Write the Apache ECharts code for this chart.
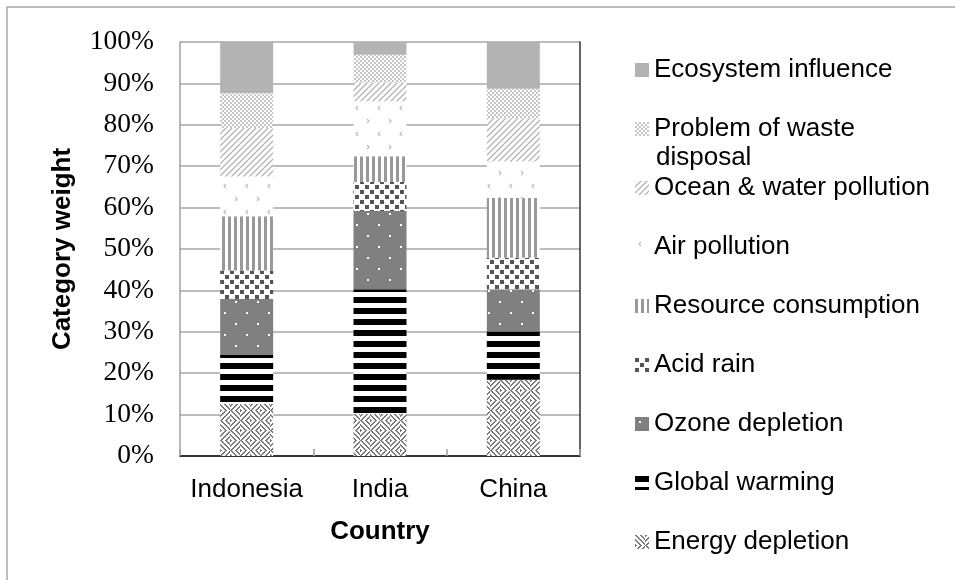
<!DOCTYPE html>
<html>
<head>
<meta charset="utf-8">
<script src="https://cdn.jsdelivr.net/npm/echarts@6/dist/echarts.min.js"></script>
<style>html,body{margin:0;padding:0;background:#fff;}#c{width:955px;height:580px;}</style>
</head>
<body>
<div id="c"></div>
<script>
// ---- data ----
const categories = ['Indonesia', 'India', 'China'];
const seriesNames = ['Energy depletion', 'Global warming', 'Ozone depletion', 'Acid rain',
  'Resource consumption', 'Air pollution', 'Ocean & water pollution',
  'Problem of waste disposal', 'Ecosystem influence'];
const energyDepletion = [12.6, 10.2, 18.4];
const globalWarming = [11.8, 30.1, 11.7];
const ozoneDepletion = [13.5, 18.9, 10.2];
const acidRain = [6.9, 7.0, 7.6];
const resourceConsumption = [13.1, 6.2, 14.4];
const airPollution = [9.6, 13.3, 8.9];
const oceanWaterPollution = [11.7, 4.5, 10.4];
const wasteDisposal = [8.5, 6.7, 7.1];
const ecosystemInfluence = [12.3, 3.1, 11.3];
const yTicks = [0, 10, 20, 30, 40, 50, 60, 70, 80, 90, 100];

// ---- patterns ----
function tile(w, h, draw) {
  const c = document.createElement('canvas');
  c.width = w; c.height = h;
  const g = c.getContext('2d');
  g.fillStyle = '#fff'; g.fillRect(0, 0, w, h);
  draw(g);
  return { image: c, repeat: 'repeat' };
}
const pEnergy = tile(20, 20, g => {
  g.fillStyle = '#7a7a7a';
  for (let y = 0; y < 20; y++) {
    for (let x = 0; x < 20; x++) {
      const bx = Math.floor(x / 10), by = Math.floor(y / 10);
      const lx = x % 10, ly = y % 10;
      const d = (bx + by) % 2 === 0 ? ((lx - ly) % 5 + 5) % 5 : (lx + ly) % 5;
      if (d === 0 || d === 1) g.fillRect(x, y, 1, 1);
    }
  }
});
const pWarming = tile(8, 11, g => { g.fillStyle = '#000'; g.fillRect(0, 0, 8, 6); });
const pOzone = tile(22, 22, g => {
  g.fillStyle = '#808080'; g.fillRect(0, 0, 22, 22);
  g.fillStyle = '#fff'; g.fillRect(4, 4, 2, 2); g.fillRect(15, 15, 2, 2);
});
const pAcid = tile(10, 10, g => {
  g.fillStyle = '#555'; g.fillRect(0, 0, 4, 4); g.fillRect(5, 5, 4, 4);
});
const pResource = tile(6, 6, g => { g.fillStyle = '#999'; g.fillRect(0, 0, 3, 6); });
const pAir = tile(22, 26, g => {
  g.strokeStyle = '#bdbdbd'; g.lineWidth = 1.2;
  g.beginPath();
  g.moveTo(6, 2); g.lineTo(4, 4); g.lineTo(6, 6);
  g.moveTo(15, 15); g.lineTo(17, 17); g.lineTo(15, 19);
  g.stroke();
});
const pOcean = tile(6, 6, g => {
  g.strokeStyle = '#b4b4b4'; g.lineWidth = 1.3;
  g.beginPath();
  g.moveTo(-1, 7); g.lineTo(7, -1);
  g.moveTo(-4, 4); g.lineTo(4, -4);
  g.moveTo(2, 10); g.lineTo(10, 2);
  g.stroke();
});
const pWaste = tile(4, 4, g => {
  g.fillStyle = '#c6c6c6'; g.fillRect(0, 0, 2, 2); g.fillRect(2, 2, 2, 2);
});
const pEco = '#b3b3b3';

const valueArrays = [energyDepletion, globalWarming, ozoneDepletion, acidRain,
  resourceConsumption, airPollution, oceanWaterPollution, wasteDisposal, ecosystemInfluence];
const fills = [pEnergy, pWarming, pOzone, pAcid, pResource, pAir, pOcean, pWaste, pEco];

const series = seriesNames.map((name, i) => ({
  name: name,
  type: 'bar',
  stack: 'total',
  barWidth: 53,
  data: valueArrays[i],
  itemStyle: { color: fills[i] },
  emphasis: { disabled: true }
}));

const legendFormatter = n => n === 'Problem of waste disposal' ? 'Problem of waste' : n;

const chart = echarts.init(document.getElementById('c'), null, { renderer: 'canvas' });
chart.setOption({
  backgroundColor: '#fff',
  animation: false,
  grid: { left: 180, right: 375, top: 42, bottom: 124, containLabel: false },
  legend: {
    orient: 'vertical',
    left: 630,
    top: 50,
    itemWidth: 14,
    itemHeight: 14,
    itemGap: 29,
    icon: 'rect',
    data: seriesNames.slice().reverse(),
    formatter: legendFormatter,
    textStyle: { fontFamily: 'Liberation Sans', fontSize: 26, color: '#000', lineHeight: 30 },
    selectedMode: false
  },
  xAxis: [{
    type: 'category',
    data: categories,
    name: 'Country',
    nameLocation: 'middle',
    nameGap: 63,
    nameTextStyle: { fontFamily: 'Liberation Sans', fontSize: 26, fontWeight: 'bold', color: '#000' },
    axisLine: { lineStyle: { color: '#a0a0a0', width: 1.5 } },
    axisTick: { show: true, inside: true, length: 7, lineStyle: { color: '#a0a0a0', width: 1.5 } },
    axisLabel: { interval: 0, fontFamily: 'Liberation Sans', fontSize: 26, color: '#000', margin: 21 }
  }, {
    type: 'category',
    data: categories,
    position: 'top',
    axisLine: { lineStyle: { color: '#111', width: 1.5 } },
    axisTick: { show: false },
    axisLabel: { show: false }
  }],
  yAxis: [{
    type: 'value',
    min: 0, max: 100, interval: 10,
    name: 'Category weight',
    nameLocation: 'middle',
    nameGap: 104,
    nameTextStyle: { fontFamily: 'Liberation Sans', fontSize: 26, fontWeight: 'bold', color: '#000' },
    axisLine: { show: true, lineStyle: { color: '#a0a0a0', width: 1.5 } },
    axisTick: { show: false },
    splitLine: { lineStyle: { color: '#a6a6a6', width: 1.5 } },
    axisLabel: {
      fontFamily: 'Liberation Serif', fontSize: 27.5, color: '#000', margin: 26,
      formatter: v => yTicks.indexOf(v) >= 0 ? v + '%' : ''
    }
  }, {
    type: 'value',
    min: 0, max: 100, interval: 10,
    position: 'right',
    axisLine: { show: true, lineStyle: { color: '#333', width: 1.5 } },
    axisTick: { show: false },
    axisLabel: { show: false },
    splitLine: { show: false }
  }],
  series: series,
  graphic: [
    {
      type: 'rect', silent: true, z: -1,
      shape: { x: 7, y: 7, width: 1000, height: 1000 },
      style: { fill: null, stroke: '#a6a6a6', lineWidth: 1.5 }
    },
    {
      type: 'text', silent: true,
      x: 656, y: 158,
      style: { text: 'disposal', font: '26px "Liberation Sans"', fill: '#000', verticalAlign: 'middle', align: 'left' }
    }
  ]
});
</script>
</body>
</html>
